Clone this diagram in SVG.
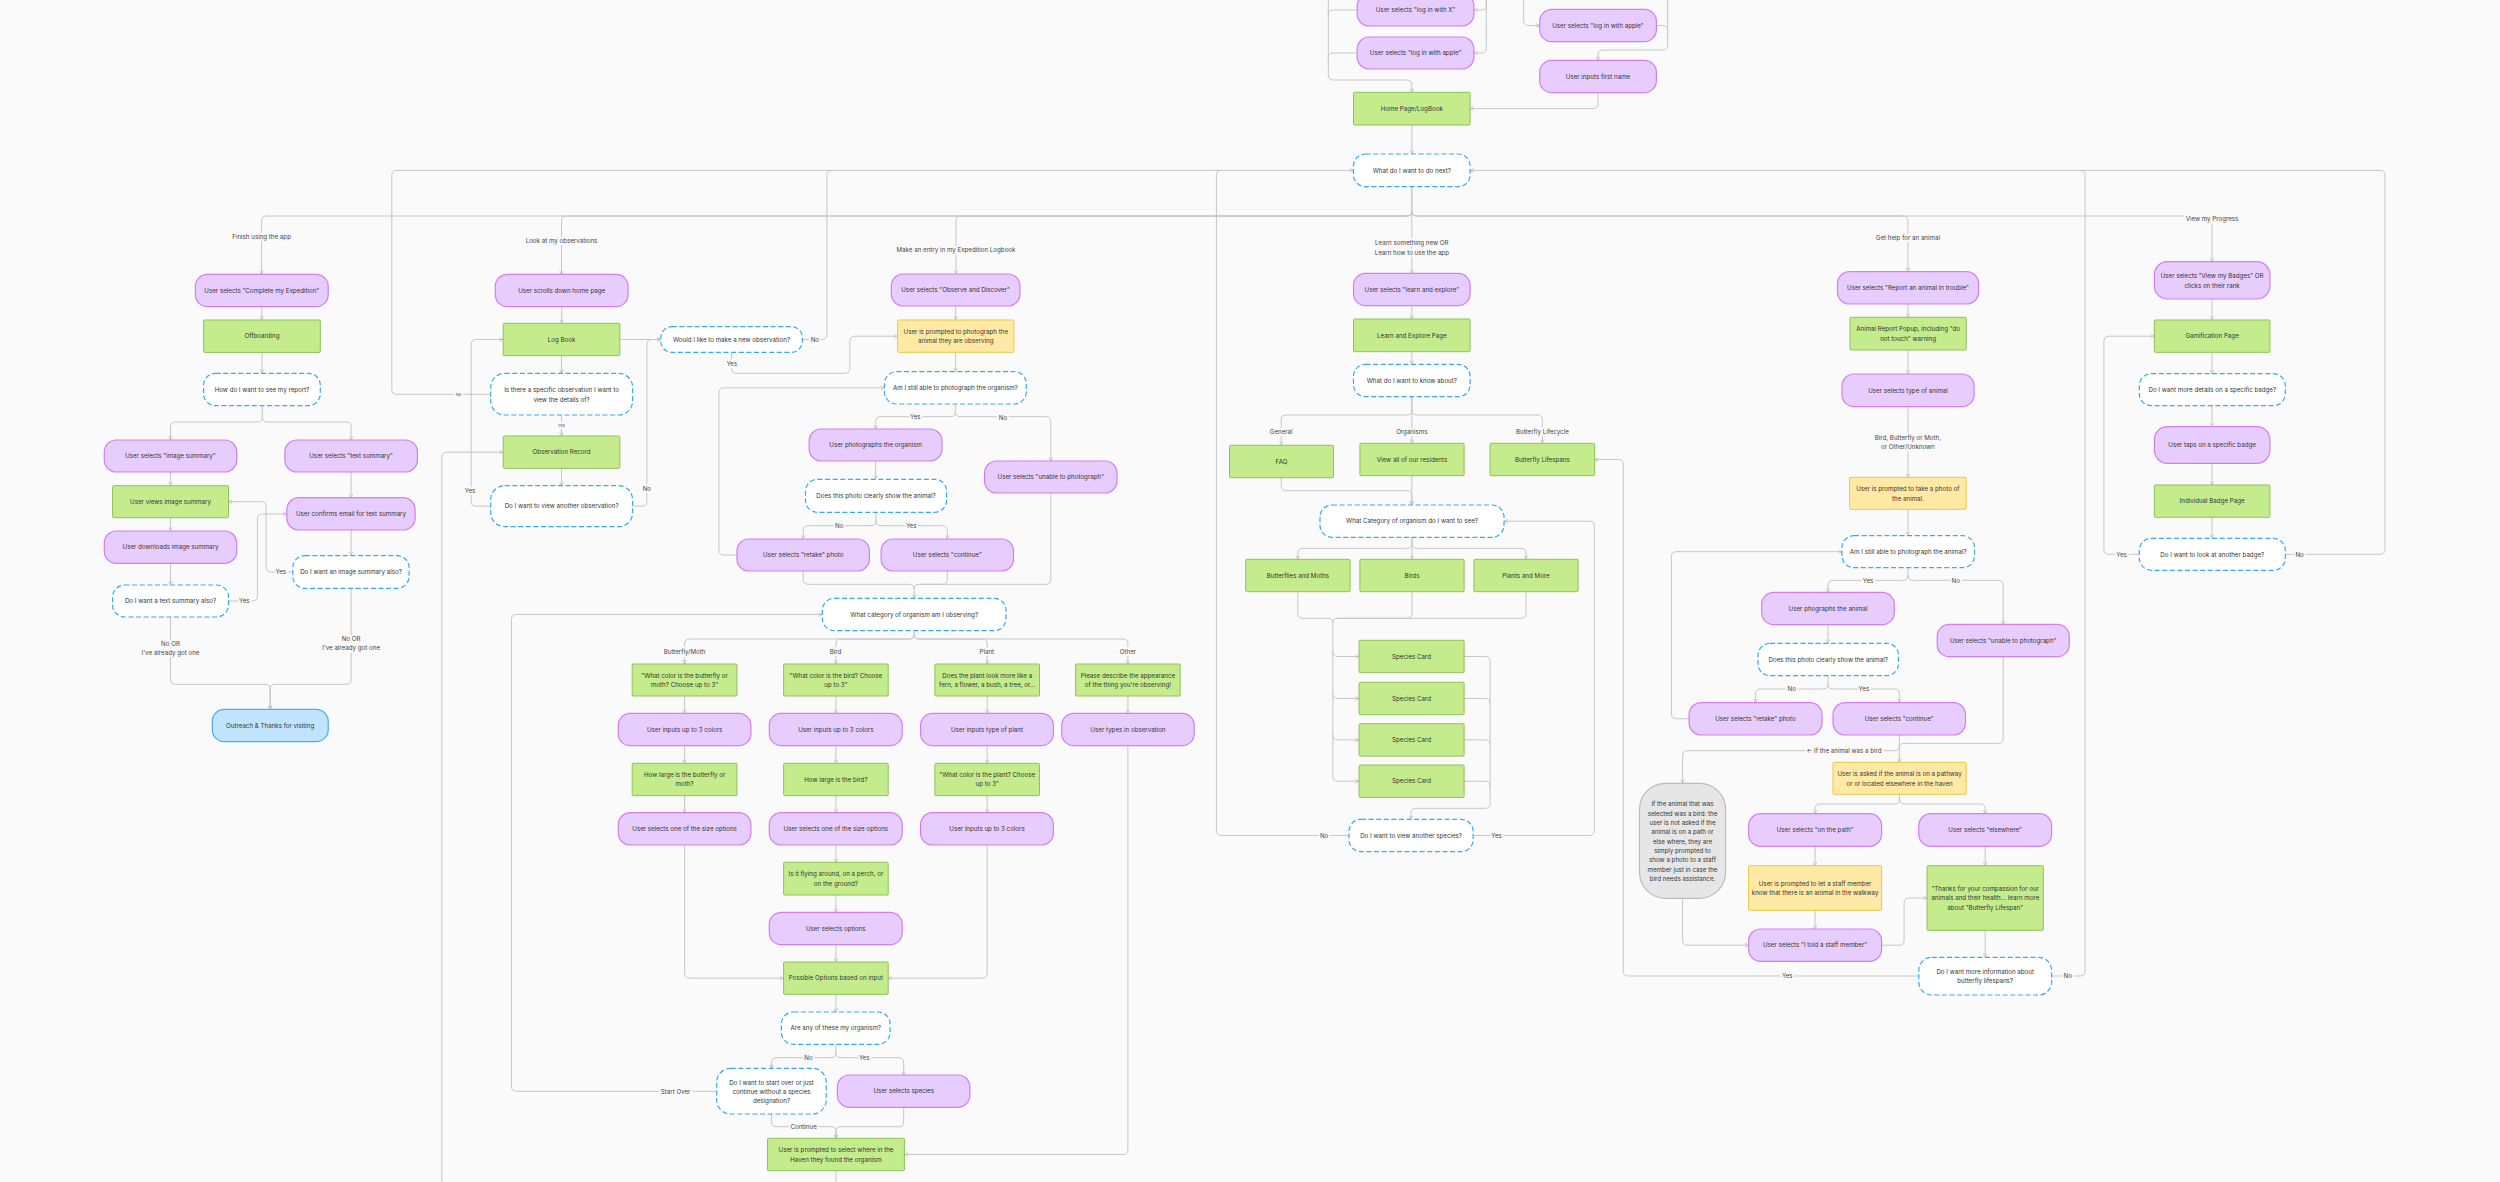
<svg xmlns="http://www.w3.org/2000/svg" width="2500" height="1182" viewBox="0 0 2500 1182">
<style>
.p{fill:#e7cdfd;stroke:#d47df6;stroke-width:1.2}
.g{fill:#c4ec8c;stroke:#8fc256;stroke-width:1}
.y{fill:#ffe9a5;stroke:#ecc93c;stroke-width:1}
.d{fill:#ffffff;stroke:#38a8f7;stroke-width:1.2;stroke-dasharray:5 2.6}
.b{fill:#c1e4fe;stroke:#44aef6;stroke-width:1.2}
.n{fill:#e6e6e6;stroke:#bcbcbc;stroke-width:1.2}
text{font-family:Inter,'Liberation Sans',sans-serif;font-size:6.2px;fill:#333;text-anchor:middle}
#connectors path{fill:none;stroke:#c6c6c6;stroke-width:1}
#connectors path.a{marker-end:url(#ar)}
.l{fill:#444;stroke:#fafafa;stroke-width:4;paint-order:stroke;stroke-linejoin:round}
.s{font-size:4px}
</style>
<defs>
<marker id="ar" viewBox="0 0 8 8" refX="7" refY="4" markerWidth="5" markerHeight="5" markerUnits="userSpaceOnUse" orient="auto"><path d="M1,1 L7,4 L1,7" fill="none" stroke="#bdbdbd" stroke-width="1.2"/></marker>
</defs>
<rect width="2500" height="1182" fill="#fafafa"/>
<g id="connectors">
<path class="a" d="M1328.3,0 V75 Q1328.3,80 1333.3,80 H1406.8 Q1411.8,80 1411.8,85 V92.3"/>
<path d="M1357.2,10 H1333.3 Q1328.3,10 1328.3,15"/>
<path d="M1357.2,53 H1333.3 Q1328.3,53 1328.3,58"/>
<path class="a" d="M1486.3,0 V5 Q1486.3,10 1481.3,10 H1473.9"/>
<path class="a" d="M1486.3,0 V48 Q1486.3,53 1481.3,53 H1473.9"/>
<path class="a" d="M1523.6,0 V20.5 Q1523.6,25.5 1528.6,25.5 H1539.7"/>
<path class="a" d="M1667.7,0 V45 Q1667.7,50 1662.7,50 H1603 Q1598,50 1598,55 V60.3"/>
<path d="M1656.4,25.5 H1662.7 Q1667.7,25.5 1667.7,30.5"/>
<path class="a" d="M1598,92.7 V103.6 Q1598,108.6 1593,108.6 H1470.1"/>
<path class="a" d="M1411.8,125 V154"/>
<path class="a" d="M490.7,394.3 H396.8 Q391.8,394.3 391.8,389.3 V175.4 Q391.8,170.4 396.8,170.4 H1353.5"/>
<path d="M802.4,339.5 H821.9 Q826.9,339.5 826.9,334.5 V175.4 Q826.9,170.4 831.9,170.4"/>
<path d="M1349,835.5 H1221.4 Q1216.4,835.5 1216.4,830.5 V175.4 Q1216.4,170.4 1221.4,170.4"/>
<path class="a" d="M2285.3,554.3 H2380 Q2385,554.3 2385,549.3 V175.4 Q2385,170.4 2380,170.4 H1470.1"/>
<path d="M2051.6,976 H2080.1 Q2085.1,976 2085.1,971 V175.4 Q2085.1,170.4 2080.1,170.4"/>
<path class="a" d="M1411.8,186.7 V211 Q1411.8,216 1406.8,216 H266.6 Q261.6,216 261.6,221 V274.3"/>
<path class="a" d="M1411.8,211 Q1411.8,216 1406.8,216 H566.5 Q561.5,216 561.5,221 V274.3"/>
<path class="a" d="M1411.8,211 Q1411.8,216 1406.8,216 H961 Q956,216 956,221 V274"/>
<path class="a" d="M1411.8,186.7 V273.3"/>
<path class="a" d="M1411.8,211 Q1411.8,216 1416.8,216 H1902.9 Q1907.9,216 1907.9,221 V271.7"/>
<path class="a" d="M1411.8,211 Q1411.8,216 1416.8,216 H2207 Q2212,216 2212,221 V261.7"/>
<path class="a" d="M261.8,306.7 V320"/>
<path class="a" d="M262,352.4 V373.3"/>
<path class="a" d="M262.3,405.7 V417 Q262.3,422 257.3,422 H175.5 Q170.5,422 170.5,427 V440"/>
<path class="a" d="M262.3,417 Q262.3,422 267.3,422 H346.1 Q351.1,422 351.1,427 V440"/>
<path class="a" d="M170.5,472 V485.7"/>
<path class="a" d="M170.5,517.7 V531"/>
<path class="a" d="M170.5,563.3 V585"/>
<path class="a" d="M351.1,472 V497.7"/>
<path class="a" d="M351.1,530 V555.7"/>
<path class="a" d="M228.5,601 H252.4 Q257.4,601 257.4,596 V519 Q257.4,514 262.4,514 H286.8"/>
<path class="a" d="M292.8,572 H271.1 Q266.1,572 266.1,567 V506.7 Q266.1,501.7 261.1,501.7 H228.5"/>
<path class="a" d="M170.5,617 V679.3 Q170.5,684.3 175.5,684.3 H265.2 Q270.2,684.3 270.2,689.3 V709.3"/>
<path class="a" d="M351.1,588.3 V679.3 Q351.1,684.3 346.1,684.3 H275.2 Q270.2,684.3 270.2,689.3 V709.3"/>
<path class="a" d="M561.7,306.7 V323.3"/>
<path class="a" d="M561.5,355.7 V373.3"/>
<path class="a" d="M561.5,415 V436"/>
<path class="a" d="M561.5,468.3 V485.7"/>
<path class="a" d="M490.7,506.2 H476.2 Q471.2,506.2 471.2,501.2 V344.5 Q471.2,339.5 476.2,339.5 H503.2"/>
<path class="a" d="M632.6,506.2 H641.9 Q646.9,506.2 646.9,501.2 V344.5 Q646.9,339.5 651.9,339.5 H660.8"/>
<path class="a" d="M619.8,339.5 H660.8"/>
<path class="a" d="M441.8,1182 V457.2 Q441.8,452.2 446.8,452.2 H503.2"/>
<path class="a" d="M955.7,306 V320"/>
<path class="a" d="M731.6,352.3 V368.3 Q731.6,373.3 736.6,373.3 H844.9 Q849.9,373.3 849.9,368.3 V341.2 Q849.9,336.2 854.9,336.2 H897.6"/>
<path class="a" d="M955.6,352.3 V371.7"/>
<path class="a" d="M955.4,404 V411.7 Q955.4,416.7 950.4,416.7 H880.6 Q875.6,416.7 875.6,421.7 V429"/>
<path class="a" d="M955.4,411.7 Q955.4,416.7 960.4,416.7 H1045.8 Q1050.8,416.7 1050.8,421.7 V461"/>
<path class="a" d="M875.6,461 V479.3"/>
<path class="a" d="M876,512.3 V520.7 Q876,525.7 871,525.7 H808.2 Q803.2,525.7 803.2,530.7 V539"/>
<path class="a" d="M876,520.7 Q876,525.7 881,525.7 H942.3 Q947.3,525.7 947.3,530.7 V539"/>
<path class="a" d="M737,555 H723.9 Q718.9,555 718.9,550 V392.9 Q718.9,387.9 723.9,387.9 H884.5"/>
<path class="a" d="M803.2,571 V579.3 Q803.2,584.3 808.2,584.3 H909.2 Q914.2,584.3 914.2,589.3 V598.3"/>
<path d="M947.3,571 V579.3 Q947.3,584.3 942.3,584.3 H919.2 Q914.2,584.3 914.2,589.3"/>
<path d="M1050.8,493 V579.3 Q1050.8,584.3 1045.8,584.3 H919.2"/>
<path class="a" d="M716.7,1091.3 H516.4 Q511.4,1091.3 511.4,1086.3 V619.5 Q511.4,614.5 516.4,614.5 H822.4"/>
<path class="a" d="M914.2,630.7 V634 Q914.2,639 909.2,639 H689.6 Q684.6,639 684.6,644 V664"/>
<path class="a" d="M914.2,634 Q914.2,639 909.2,639 H840.9 Q835.9,639 835.9,644 V664"/>
<path class="a" d="M914.2,634 Q914.2,639 919.2,639 H982.2 Q987.2,639 987.2,644 V664"/>
<path class="a" d="M914.2,634 Q914.2,639 919.2,639 H1122.9 Q1127.9,639 1127.9,644 V664"/>
<path class="a" d="M684.6,696 V713.3"/>
<path class="a" d="M684.6,745.7 V763.3"/>
<path class="a" d="M684.6,795.7 V812.7"/>
<path class="a" d="M835.9,696 V713.3"/>
<path class="a" d="M835.9,745.7 V763.3"/>
<path class="a" d="M835.9,795.7 V812.7"/>
<path class="a" d="M835.9,845 V862.3"/>
<path class="a" d="M835.9,895 V912.3"/>
<path class="a" d="M835.9,944.7 V962"/>
<path class="a" d="M987.2,696 V713.3"/>
<path class="a" d="M987.2,745.7 V763.3"/>
<path class="a" d="M987.2,795.7 V812.7"/>
<path class="a" d="M1127.9,696 V713.3"/>
<path class="a" d="M1127.9,745.7 V1149.5 Q1127.9,1154.5 1122.9,1154.5 H904.4"/>
<path class="a" d="M684.6,845 V973.2 Q684.6,978.2 689.6,978.2 H783.6"/>
<path class="a" d="M987.2,845 V973.2 Q987.2,978.2 982.2,978.2 H888.2"/>
<path class="a" d="M835.9,994.3 V1012"/>
<path class="a" d="M835.8,1044.3 V1052.7 Q835.8,1057.7 830.8,1057.7 H776.5 Q771.5,1057.7 771.5,1062.7 V1068.3"/>
<path class="a" d="M835.8,1052.7 Q835.8,1057.7 840.8,1057.7 H898.7 Q903.7,1057.7 903.7,1062.7 V1075"/>
<path class="a" d="M771.5,1114 V1121.7 Q771.5,1126.7 776.5,1126.7 H831 Q836,1126.7 836,1131.7 V1138.3"/>
<path class="a" d="M903.7,1107.3 V1121.7 Q903.7,1126.7 898.7,1126.7 H841 Q836,1126.7 836,1131.7 V1138.3"/>
<path d="M836,1170.7 V1182"/>
<path class="a" d="M1411.8,305.7 V319"/>
<path class="a" d="M1411.8,351.7 V364.3"/>
<path class="a" d="M1411.8,396.7 V410 Q1411.8,415 1406.8,415 H1286.2 Q1281.2,415 1281.2,420 V445.3"/>
<path class="a" d="M1411.8,396.7 V443.3"/>
<path class="a" d="M1411.8,410 Q1411.8,415 1416.8,415 H1537.4 Q1542.4,415 1542.4,420 V443.3"/>
<path class="a" d="M1281.2,477.7 V485.7 Q1281.2,490.7 1286.2,490.7 H1406.8 Q1411.8,490.7 1411.8,495.7 V505"/>
<path class="a" d="M1411.8,475.7 V505"/>
<path class="a" d="M1412,537.3 V543.3 Q1412,548.3 1407,548.3 H1302.8 Q1297.8,548.3 1297.8,553.3 V559.3"/>
<path class="a" d="M1412,537.3 V559.3"/>
<path class="a" d="M1412,543.3 Q1412,548.3 1417,548.3 H1521 Q1526,548.3 1526,553.3 V559.3"/>
<path class="a" d="M1297.8,591.7 V613.3 Q1297.8,618.3 1302.8,618.3 H1327.8 Q1332.8,618.3 1332.8,623.3 V776.2 Q1332.8,781.2 1337.8,781.2 H1359.1"/>
<path d="M1412,591.7 V613.3 Q1412,618.3 1407,618.3 H1337.8 Q1332.8,618.3 1332.8,623.3"/>
<path d="M1526,591.7 V613.3 Q1526,618.3 1521,618.3 H1337.8"/>
<path class="a" d="M1332.8,651.5 Q1332.8,656.5 1337.8,656.5 H1359.1"/>
<path class="a" d="M1332.8,693.5 Q1332.8,698.5 1337.8,698.5 H1359.1"/>
<path class="a" d="M1332.8,734.9 Q1332.8,739.9 1337.8,739.9 H1359.1"/>
<path class="a" d="M1464.1,656.5 H1485.1 Q1490.1,656.5 1490.1,661.5 V803.3 Q1490.1,808.3 1485.1,808.3 H1416.1 Q1411.1,808.3 1411.1,813.3 V819.3"/>
<path d="M1464.1,698.5 H1485.1 Q1490.1,698.5 1490.1,703.5"/>
<path d="M1464.1,739.9 H1485.1 Q1490.1,739.9 1490.1,744.9"/>
<path d="M1464.1,781.2 H1485.1 Q1490.1,781.2 1490.1,786.2"/>
<path class="a" d="M1473.1,835.5 H1589.3 Q1594.3,835.5 1594.3,830.5 V526.2 Q1594.3,521.2 1589.3,521.2 H1504"/>
<path class="a" d="M1918.8,976 H1628.3 Q1623.3,976 1623.3,971 V464.5 Q1623.3,459.5 1618.3,459.5 H1594.6"/>
<path class="a" d="M1908,304 V317.3"/>
<path class="a" d="M1908,350 V374"/>
<path class="a" d="M1908,406.7 V477.3"/>
<path class="a" d="M1908,509.3 V535.7"/>
<path class="a" d="M1908,567.7 V575.3 Q1908,580.3 1903,580.3 H1833 Q1828,580.3 1828,585.3 V592.3"/>
<path class="a" d="M1908,575.3 Q1908,580.3 1913,580.3 H1998.2 Q2003.2,580.3 2003.2,585.3 V624.3"/>
<path class="a" d="M1828,624.7 V643.3"/>
<path class="a" d="M1828,675.7 V684 Q1828,689 1823,689 H1760.5 Q1755.5,689 1755.5,694 V702.7"/>
<path class="a" d="M1828,684 Q1828,689 1833,689 H1894.4 Q1899.4,689 1899.4,694 V702.7"/>
<path class="a" d="M1689.1,718.8 H1676.4 Q1671.4,718.8 1671.4,713.8 V556.7 Q1671.4,551.7 1676.4,551.7 H1842"/>
<path class="a" d="M1899.4,735 V762.3"/>
<path d="M2003.2,656.7 V738.3 Q2003.2,743.3 1998.2,743.3 H1904.4 Q1899.4,743.3 1899.4,748.3"/>
<path class="a" d="M1899.4,745.7 Q1899.4,750.7 1894.4,750.7 H1687.6 Q1682.6,750.7 1682.6,755.7 V783.3"/>
<path class="a" d="M1899.6,794.3 V799 Q1899.6,804 1894.6,804 H1820.1 Q1815.1,804 1815.1,809 V813.7"/>
<path class="a" d="M1899.6,799 Q1899.6,804 1904.6,804 H1980.2 Q1985.2,804 1985.2,809 V813.7"/>
<path class="a" d="M1815.1,846.3 V865.7"/>
<path class="a" d="M1815.1,910.3 V929"/>
<path class="a" d="M1682.6,898.3 V940.2 Q1682.6,945.2 1687.6,945.2 H1748.6"/>
<path class="a" d="M1881.6,945.2 H1899.1 Q1904.1,945.2 1904.1,940.2 V903 Q1904.1,898 1909.1,898 H1927.1"/>
<path class="a" d="M1985.2,846.3 V865.7"/>
<path class="a" d="M1985.2,930.3 V957.3"/>
<path class="a" d="M2212,299 V320"/>
<path class="a" d="M2212,352.3 V373.7"/>
<path class="a" d="M2212,405.7 V426.7"/>
<path class="a" d="M2212,463.3 V485"/>
<path class="a" d="M2212,517.3 V538.3"/>
<path class="a" d="M2139.3,554.3 H2108.9 Q2103.9,554.3 2103.9,549.3 V341.2 Q2103.9,336.2 2108.9,336.2 H2154.4"/>
</g>
<g id="labels">
<text class="l" x="261.6" y="239.2">Finish using the app</text>
<text class="l" x="561.5" y="243.2">Look at my observations</text>
<text class="l" x="956" y="252.2">Make an entry in my Expedition Logbook</text>
<text class="l" x="1411.8" y="245.2">Learn something new OR</text>
<text class="l" x="1411.8" y="254.5">Learn how to use the app</text>
<text class="l" x="1907.9" y="239.9">Get help for an animal</text>
<rect x="2184" y="213" width="56" height="11" fill="#fafafa"/>
<text class="l" x="2212" y="221.2">View my Progress</text>
<text class="l s" x="458.8" y="395.8">No</text>
<text class="l s" x="561.5" y="427.2">Yes</text>
<text class="l" x="814.9" y="341.7">No</text>
<text class="l" x="731.7" y="366.2">Yes</text>
<text class="l" x="470" y="492.9">Yes</text>
<text class="l" x="646.9" y="490.5">No</text>
<text class="l" x="244.3" y="603.2">Yes</text>
<text class="l" x="280.8" y="574.2">Yes</text>
<text class="l" x="170.5" y="645.5">No OR</text>
<text class="l" x="170.5" y="655.2">I've already got one</text>
<text class="l" x="351.1" y="640.5">No OR</text>
<text class="l" x="351.1" y="649.9">I've already got one</text>
<text class="l" x="915.3" y="418.9">Yes</text>
<text class="l" x="1003" y="419.5">No</text>
<text class="l" x="839.3" y="527.9">No</text>
<text class="l" x="911.2" y="527.9">Yes</text>
<text class="l" x="684.6" y="653.9">Butterfly/Moth</text>
<text class="l" x="835.6" y="653.9">Bird</text>
<text class="l" x="986.8" y="653.9">Plant</text>
<text class="l" x="1127.9" y="653.5">Other</text>
<text class="l" x="808.5" y="1059.9">No</text>
<text class="l" x="864.2" y="1059.9">Yes</text>
<text class="l" x="675.6" y="1093.5">Start Over</text>
<text class="l" x="803.6" y="1128.9">Continue</text>
<text class="l" x="1281.2" y="433.9">General</text>
<text class="l" x="1411.8" y="433.9">Organisms</text>
<text class="l" x="1542.4" y="433.5">Butterfly Lifecycle</text>
<text class="l" x="1324.1" y="837.7">No</text>
<text class="l" x="1496.5" y="837.7">Yes</text>
<text class="l" x="1907.9" y="439.9">Bird, Butterfly or Moth,</text>
<text class="l" x="1907.9" y="449.2">or Other/Unknown</text>
<text class="l" x="1868" y="582.5">Yes</text>
<text class="l" x="1955.7" y="582.9">No</text>
<text class="l" x="1791.8" y="691.2">No</text>
<text class="l" x="1863.9" y="691.2">Yes</text>
<text class="l" x="1844" y="752.9">← If the animal was a bird</text>
<text class="l" x="1787.3" y="978.2">Yes</text>
<text class="l" x="2067.8" y="978.2">No</text>
<text class="l" x="2121.6" y="556.5">Yes</text>
<text class="l" x="2299.6" y="556.5">No</text>
</g>
<g id="n_loginx"><rect class="p" x="1357.2" y="-6" width="116.7" height="32" rx="12"/><text x="1415.6" y="12.2">User selects "log in with X"</text></g>
<g id="n_loginapple1"><rect class="p" x="1357.2" y="37" width="116.7" height="32" rx="12"/><text x="1415.6" y="55.2">User selects "log in with apple"</text></g>
<g id="n_loginapple2"><rect class="p" x="1539.7" y="9.3" width="116.7" height="32.4" rx="12"/><text x="1598" y="27.7">User selects "log in with apple"</text></g>
<g id="n_firstname"><rect class="p" x="1539.7" y="60.3" width="116.7" height="32.4" rx="12"/><text x="1598" y="78.7">User inputs first name</text></g>
<g id="n_home"><rect class="g" x="1353.5" y="92.3" width="116.6" height="32.7" rx="1"/><text x="1411.8" y="110.8">Home Page/LogBook</text></g>
<g id="n_next"><rect class="d" x="1353.5" y="154" width="116.6" height="32.7" rx="12"/><text x="1411.8" y="172.6">What do I want to do next?</text></g>
<g id="n_complete"><rect class="p" x="195.4" y="274.3" width="132.8" height="32.4" rx="12"/><text x="261.8" y="292.7">User selects "Complete my Expedition"</text></g>
<g id="n_offboard"><rect class="g" x="203.6" y="320" width="116.7" height="32.4" rx="1"/><text x="262" y="338.4">Offboarding</text></g>
<g id="n_report"><rect class="d" x="203.6" y="373.3" width="116.7" height="32.4" rx="12"/><text x="262" y="391.7">How do I want to see my report?</text></g>
<g id="n_imgsum"><rect class="p" x="104.3" y="440" width="132.4" height="32" rx="12"/><text x="170.5" y="458.2">User selects "image summary"</text></g>
<g id="n_txtsum"><rect class="p" x="284.9" y="440" width="132.5" height="32" rx="12"/><text x="351.1" y="458.2">User selects "text summary"</text></g>
<g id="n_viewimg"><rect class="g" x="112.6" y="485.7" width="115.9" height="32" rx="1"/><text x="170.5" y="503.9">User views image summary</text></g>
<g id="n_email"><rect class="p" x="286.8" y="497.7" width="128.3" height="32.3" rx="12"/><text x="351" y="516.1">User confirms email for text summary</text></g>
<g id="n_download"><rect class="p" x="104.3" y="531" width="132.4" height="32.3" rx="12"/><text x="170.5" y="549.3">User downloads image summary</text></g>
<g id="n_txtalso"><rect class="d" x="112.6" y="585" width="115.9" height="32" rx="12"/><text x="170.5" y="603.2">Do I want a text summary also?</text></g>
<g id="n_imgalso"><rect class="d" x="292.8" y="555.7" width="116.3" height="32.6" rx="12"/><text x="351" y="574.2">Do I want an image summary also?</text></g>
<g id="n_outreach"><rect class="b" x="212.3" y="709.3" width="115.9" height="32.4" rx="12"/><text x="270.2" y="727.7">Outreach &amp; Thanks for visiting</text></g>
<g id="n_scroll"><rect class="p" x="495.3" y="274.3" width="132.8" height="32.4" rx="12"/><text x="561.7" y="292.7">User scrolls down home page</text></g>
<g id="n_logbook"><rect class="g" x="503.2" y="323.3" width="116.6" height="32.4" rx="1"/><text x="561.5" y="341.7">Log Book</text></g>
<g id="n_specific"><rect class="d" x="490.7" y="373.3" width="141.9" height="41.7" rx="14"/><text x="561.6" y="392.2">Is there a specific observation I want to</text><text x="561.6" y="401.5">view the details of?</text></g>
<g id="n_obsrec"><rect class="g" x="503.2" y="436" width="116.6" height="32.3" rx="1"/><text x="561.5" y="454.4">Observation Record</text></g>
<g id="n_anotherobs"><rect class="d" x="490.7" y="485.7" width="141.9" height="41" rx="14"/><text x="561.6" y="508.4">Do I want to view another observation?</text></g>
<g id="n_newobs"><rect class="d" x="660.8" y="326.7" width="141.6" height="25.6" rx="11"/><text x="731.6" y="341.7">Would I like to make a new observation?</text></g>
<g id="n_observe"><rect class="p" x="891.3" y="274" width="128.7" height="32" rx="12"/><text x="955.6" y="292.2">User selects "Observe and Discover"</text></g>
<g id="n_promptphoto"><rect class="y" x="897.6" y="320" width="116.3" height="32.3" rx="1"/><text x="955.8" y="333.9">User is prompted to photograph the</text><text x="955.8" y="343.2">animal they are observing</text></g>
<g id="n_stillable"><rect class="d" x="884.5" y="371.7" width="141.8" height="32.3" rx="12"/><text x="955.4" y="390.1">Am I still able to photograph the organism?</text></g>
<g id="n_photographs"><rect class="p" x="809.2" y="429" width="132.8" height="32" rx="12"/><text x="875.6" y="447.2">User photographs the organism</text></g>
<g id="n_clear"><rect class="d" x="805.5" y="479.3" width="141.1" height="33" rx="12"/><text x="876" y="498">Does this photo clearly show the animal?</text></g>
<g id="n_retake"><rect class="p" x="737" y="539" width="132.4" height="32" rx="12"/><text x="803.2" y="557.2">User selects "retake" photo</text></g>
<g id="n_continue"><rect class="p" x="881.1" y="539" width="132.4" height="32" rx="12"/><text x="947.3" y="557.2">User selects "continue"</text></g>
<g id="n_unable"><rect class="p" x="984.6" y="461" width="132.4" height="32" rx="12"/><text x="1050.8" y="479.2">User selects "unable to photograph"</text></g>
<g id="n_category"><rect class="d" x="822.4" y="598.3" width="183.6" height="32.4" rx="12"/><text x="914.2" y="616.7">What category of organism am I observing?</text></g>
<g id="n_bmcolor"><rect class="g" x="632.2" y="664" width="104.8" height="32" rx="1"/><text x="684.6" y="677.6">"What color is the butterfly or</text><text x="684.6" y="686.9">moth? Choose up to 3"</text></g>
<g id="n_birdcolor"><rect class="g" x="783.6" y="664" width="104.6" height="32" rx="1"/><text x="835.9" y="677.6">"What color is the bird? Choose</text><text x="835.9" y="686.9">up to 3"</text></g>
<g id="n_plantlook"><rect class="g" x="934.9" y="664" width="104.6" height="32" rx="1"/><text x="987.2" y="677.6">Does the plant look more like a</text><text x="987.2" y="686.9">fern, a flower, a bush, a tree, or...</text></g>
<g id="n_otherdesc"><rect class="g" x="1075.6" y="664" width="104.6" height="32" rx="1"/><text x="1127.9" y="677.6">Please describe the appearance</text><text x="1127.9" y="686.9">of the thing you're observing!</text></g>
<g id="n_bminput"><rect class="p" x="618.3" y="713.3" width="132.6" height="32.4" rx="12"/><text x="684.6" y="731.7">User inputs up to 3 colors</text></g>
<g id="n_birdinput"><rect class="p" x="769.3" y="713.3" width="132.9" height="32.4" rx="12"/><text x="835.8" y="731.7">User inputs up to 3 colors</text></g>
<g id="n_planttype"><rect class="p" x="920.6" y="713.3" width="132.8" height="32.4" rx="12"/><text x="987" y="731.7">User inputs type of plant</text></g>
<g id="n_othertype"><rect class="p" x="1061.7" y="713.3" width="132.5" height="32.4" rx="12"/><text x="1128" y="731.7">User types in observation</text></g>
<g id="n_bmsize"><rect class="g" x="632.2" y="763.3" width="104.8" height="32.4" rx="1"/><text x="684.6" y="777.1">How large is the butterfly or</text><text x="684.6" y="786.4">moth?</text></g>
<g id="n_birdsize"><rect class="g" x="783.6" y="763.3" width="104.6" height="32.4" rx="1"/><text x="835.9" y="781.7">How large is the bird?</text></g>
<g id="n_plantcolor"><rect class="g" x="934.9" y="763.3" width="104.6" height="32.4" rx="1"/><text x="987.2" y="777.1">"What color is the plant? Choose</text><text x="987.2" y="786.4">up to 3"</text></g>
<g id="n_bmselect"><rect class="p" x="618.3" y="812.7" width="132.6" height="32.3" rx="12"/><text x="684.6" y="831.1">User selects one of the size options</text></g>
<g id="n_birdselect"><rect class="p" x="769.3" y="812.7" width="132.9" height="32.3" rx="12"/><text x="835.8" y="831.1">User selects one of the size options</text></g>
<g id="n_plantinput"><rect class="p" x="920.6" y="812.7" width="132.8" height="32.3" rx="12"/><text x="987" y="831.1">User inputs up to 3 colors</text></g>
<g id="n_birdwhere"><rect class="g" x="783.6" y="862.3" width="104.6" height="32.7" rx="1"/><text x="835.9" y="876.2">Is it flying around, on a perch, or</text><text x="835.9" y="885.5">on the ground?</text></g>
<g id="n_birdoptions"><rect class="p" x="769.3" y="912.3" width="132.9" height="32.4" rx="12"/><text x="835.8" y="930.7">User selects options</text></g>
<g id="n_possible"><rect class="g" x="783.6" y="962" width="104.6" height="32.3" rx="1"/><text x="835.9" y="980.4">Possible Options based on input</text></g>
<g id="n_areany"><rect class="d" x="781.4" y="1012" width="108.7" height="32.3" rx="12"/><text x="835.8" y="1030.4">Are any of these my organism?</text></g>
<g id="n_startover"><rect class="d" x="716.7" y="1068.3" width="109.5" height="45.7" rx="14"/><text x="771.5" y="1084.5">Do I want to start over or just</text><text x="771.5" y="1093.9">continue without a species</text><text x="771.5" y="1103.2">designation?</text></g>
<g id="n_speciessel"><rect class="p" x="837.4" y="1075" width="132.5" height="32.3" rx="12"/><text x="903.7" y="1093.4">User selects species</text></g>
<g id="n_haven"><rect class="g" x="767.5" y="1138.3" width="136.9" height="32.4" rx="1"/><text x="836" y="1152.2">User is prompted to select where in the</text><text x="836" y="1161.5">Haven they found the organism</text></g>
<g id="n_learn"><rect class="p" x="1353.5" y="273.3" width="116.6" height="32.4" rx="12"/><text x="1411.8" y="291.7">User selects "learn and explore"</text></g>
<g id="n_learnpage"><rect class="g" x="1353.5" y="319" width="116.6" height="32.7" rx="1"/><text x="1411.8" y="337.6">Learn and Explore Page</text></g>
<g id="n_know"><rect class="d" x="1353.5" y="364.3" width="116.6" height="32.4" rx="12"/><text x="1411.8" y="382.7">What do I want to know about?</text></g>
<g id="n_faq"><rect class="g" x="1229.5" y="445.3" width="104" height="32.4" rx="1"/><text x="1281.5" y="463.7">FAQ</text></g>
<g id="n_residents"><rect class="g" x="1359.9" y="443.3" width="104.2" height="32.4" rx="1"/><text x="1412" y="461.7">View all of our residents</text></g>
<g id="n_lifespans"><rect class="g" x="1490" y="443.3" width="104.6" height="32.4" rx="1"/><text x="1542.3" y="461.7">Butterfly Lifespans</text></g>
<g id="n_cat2"><rect class="d" x="1320" y="505" width="184" height="32.3" rx="12"/><text x="1412" y="523.4">What Category of organism do I want to see?</text></g>
<g id="n_bm"><rect class="g" x="1245.7" y="559.3" width="104.4" height="32.4" rx="1"/><text x="1297.9" y="577.7">Butterflies and Moths</text></g>
<g id="n_birds"><rect class="g" x="1359.9" y="559.3" width="104.2" height="32.4" rx="1"/><text x="1412" y="577.7">Birds</text></g>
<g id="n_plants"><rect class="g" x="1473.9" y="559.3" width="104.2" height="32.4" rx="1"/><text x="1526" y="577.7">Plants and More</text></g>
<g id="n_species1"><rect class="g" x="1359.1" y="640.3" width="105" height="32.4" rx="1"/><text x="1411.6" y="658.7">Species Card</text></g>
<g id="n_species2"><rect class="g" x="1359.1" y="682.3" width="105" height="32.4" rx="1"/><text x="1411.6" y="700.7">Species Card</text></g>
<g id="n_species3"><rect class="g" x="1359.1" y="723.7" width="105" height="32.4" rx="1"/><text x="1411.6" y="742.1">Species Card</text></g>
<g id="n_species4"><rect class="g" x="1359.1" y="765" width="105" height="32.4" rx="1"/><text x="1411.6" y="783.4">Species Card</text></g>
<g id="n_anotherspecies"><rect class="d" x="1349" y="819.3" width="124.1" height="32.4" rx="12"/><text x="1411.1" y="837.7">Do I want to view another species?</text></g>
<g id="n_reportanimal"><rect class="p" x="1837.5" y="271.7" width="141.1" height="32.3" rx="12"/><text x="1908" y="290">User selects "Report an animal in trouble"</text></g>
<g id="n_popup"><rect class="g" x="1850" y="317.3" width="116.2" height="32.7" rx="1"/><text x="1908.1" y="331.2">Animal Report Popup, including "do</text><text x="1908.1" y="340.5">not touch" warning</text></g>
<g id="n_type"><rect class="p" x="1842" y="374" width="132.1" height="32.7" rx="12"/><text x="1908" y="392.5">User selects type of animal</text></g>
<g id="n_takephoto"><rect class="y" x="1849.6" y="477.3" width="116.6" height="32" rx="1"/><text x="1907.9" y="491.2">User is prompted to take a photo of</text><text x="1907.9" y="500.5">the animal.</text></g>
<g id="n_stillable2"><rect class="d" x="1842" y="535.7" width="132.5" height="32" rx="12"/><text x="1908.2" y="553.9">Am I still able to photograph the animal?</text></g>
<g id="n_phographs"><rect class="p" x="1761.7" y="592.3" width="132.6" height="32.4" rx="12"/><text x="1828" y="610.7">User phographs the animal</text></g>
<g id="n_clear2"><rect class="d" x="1758" y="643.3" width="140.5" height="32.4" rx="12"/><text x="1828.2" y="661.7">Does this photo clearly show the animal?</text></g>
<g id="n_retake2"><rect class="p" x="1689.1" y="702.7" width="132.9" height="32.3" rx="12"/><text x="1755.5" y="721">User selects "retake" photo</text></g>
<g id="n_continue2"><rect class="p" x="1833" y="702.7" width="132.5" height="32.3" rx="12"/><text x="1899.2" y="721">User selects "continue"</text></g>
<g id="n_unable2"><rect class="p" x="1937.2" y="624.3" width="132.1" height="32.4" rx="12"/><text x="2003.2" y="642.7">User selects "unable to photograph"</text></g>
<g id="n_asked"><rect class="y" x="1833" y="762.3" width="133.2" height="32" rx="1"/><text x="1899.6" y="775.9">User is asked if the animal is on a pathway</text><text x="1899.6" y="785.5">or or located elsewhere in the haven</text></g>
<g id="n_note"><rect class="n" x="1639.5" y="783.3" width="86.1" height="115" rx="26"/><text x="1682.5" y="806.2">If the animal that was</text><text x="1682.5" y="815.5">selected was a bird: the</text><text x="1682.5" y="824.9">user is not asked if the</text><text x="1682.5" y="834.2">animal is on a path or</text><text x="1682.5" y="843.5">else where, they are</text><text x="1682.5" y="852.9">simply prompted to</text><text x="1682.5" y="862.2">show a photo to  a staff</text><text x="1682.5" y="871.5">member just in case the</text><text x="1682.5" y="880.9">bird needs assistance.</text></g>
<g id="n_onpath"><rect class="p" x="1748.6" y="813.7" width="133" height="32.6" rx="12"/><text x="1815.1" y="832.2">User selects "on the path"</text></g>
<g id="n_elsewhere"><rect class="p" x="1918.8" y="813.7" width="132.8" height="32.6" rx="12"/><text x="1985.2" y="832.2">User selects "elsewhere"</text></g>
<g id="n_staffprompt"><rect class="y" x="1748.6" y="865.7" width="133" height="44.6" rx="1"/><text x="1815.1" y="885.9">User is prompted to let a staff member</text><text x="1815.1" y="895.2">know that there is an animal in the walkway</text></g>
<g id="n_told"><rect class="p" x="1748.6" y="929" width="133" height="32.3" rx="12"/><text x="1815.1" y="947.3">User selects "I told a staff member"</text></g>
<g id="n_thanks"><rect class="g" x="1927.1" y="865.7" width="116.2" height="64.6" rx="1"/><text x="1985.2" y="890.9">"Thanks for your compassion for our</text><text x="1985.2" y="900.2">animals and their health... learn more</text><text x="1985.2" y="909.5">about "Butterfly Lifespan"</text></g>
<g id="n_lifespanq"><rect class="d" x="1918.8" y="957.3" width="132.8" height="37.7" rx="13"/><text x="1985.2" y="973.5">Do I want more information about</text><text x="1985.2" y="982.9">butterfly lifespans?</text></g>
<g id="n_badges"><rect class="p" x="2154.4" y="261.7" width="115.5" height="37.3" rx="13"/><text x="2212.1" y="278.2">User selects "View my Badges" OR</text><text x="2212.1" y="287.5">clicks on their rank</text></g>
<g id="n_gamif"><rect class="g" x="2154.4" y="320" width="115.5" height="32.3" rx="1"/><text x="2212.1" y="338.3">Gamification Page</text></g>
<g id="n_details"><rect class="d" x="2139.3" y="373.7" width="146" height="32" rx="12"/><text x="2212.3" y="391.9">Do I want more details on a specific badge?</text></g>
<g id="n_taps"><rect class="p" x="2154.4" y="426.7" width="115.5" height="36.6" rx="13"/><text x="2212.1" y="447.2">User taps on a specific badge</text></g>
<g id="n_indiv"><rect class="g" x="2154.4" y="485" width="115.5" height="32.3" rx="1"/><text x="2212.1" y="503.3">Individual Badge Page</text></g>
<g id="n_anotherbadge"><rect class="d" x="2139.3" y="538.3" width="146" height="32" rx="12"/><text x="2212.3" y="556.5">Do I want to look at another badge?</text></g>
</svg>
